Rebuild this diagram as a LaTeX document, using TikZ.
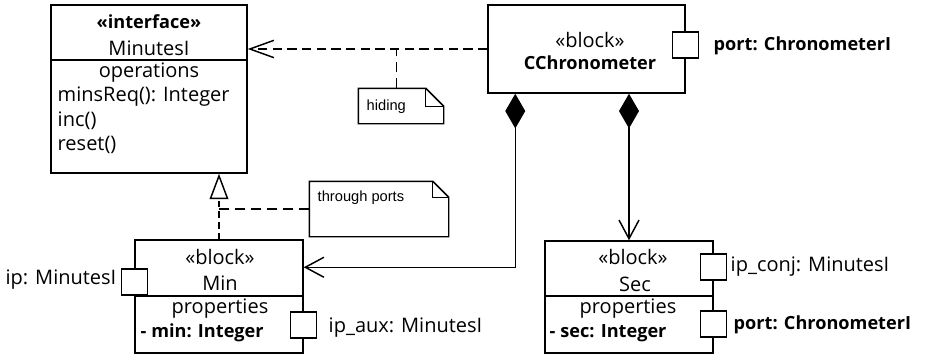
\documentclass[tikz,border=0pt]{standalone}
\usepackage{fontspec}
\setmainfont{Open Sans}
\newfontfamily\notefam{Liberation Sans}
\newcommand\umlfont{\fontsize{15}{18}\selectfont}
\newcommand\umlbold{\fontsize{13.6}{18}\selectfont\bfseries}
\newcommand\notefont{\notefam\fontsize{11}{13}\selectfont}
\usetikzlibrary{arrows.meta,fit,calc}

\tikzset{
  block/.style={draw, inner sep=0pt},
  port/.style={draw, fill=white, minimum size=19.5pt, inner sep=0pt},
  txt/.style={inner sep=0pt, font=\umlfont},
  btxt/.style={inner sep=0pt, font=\umlbold},
  notebox/.style={inner sep=0pt},
  notetxt/.style={inner sep=0pt, font=\notefont},
  dep/.style={dash pattern=on 7pt off 4pt, arrows=-{Straight Barb[length=18pt,width=13pt]}},
  gen/.style={dash pattern=on 5pt off 3pt, arrows=-{Triangle[open,length=19pt,width=14pt]}},
  comp/.style={arrows={Diamond[length=26pt,width=15pt]-Straight Barb[length=14pt,width=15pt]}},
  notelink/.style={dash pattern=on 8pt off 4pt}
}

\begin{document}
\begin{tikzpicture}[x=0.75pt, y=-0.75pt, line width=1.1pt]
    \path[fill=white] (0,0) rectangle (925,357);

    % Interfaz
    \node[block, fit={(51,5) (247,173)}] (minutes) {};
    \draw (minutes.west |- 0,60) -- (minutes.east |- 0,60);
    \node[btxt] (ifst) at (149,22) {«interface»};
    \node[txt] (ifname) at (149,48) {MinutesI};
    \node[txt] (ifops) at (149,73) {operations};
    \node[txt, anchor=west] (op1) at (57,97) {minsReq(): Integer};
    \node[txt, anchor=west] (op2) at (57,121) {inc()};
    \node[txt, anchor=west] (op3) at (57,145) {reset()};

    % Bloque CChronometer
    \node[block, fit={(488,5) (685,93)}] (chrono) {};
    \node[txt] (chst) at (590,40) {«block»};
    \node[btxt] (chname) at (590,63) {CChronometer};
    \node[port] (chport) at (chrono.east |- 0,45) {};
    \node[btxt, anchor=west] (chportl) at (713,46) {port: ChronometerI};

    % Bloque Min
    \node[block, fit={(135,240) (303,353)}] (minblk) {};
    \draw (minblk.west |- 0,296) -- (minblk.east |- 0,296);
    \node[txt] (minst) at (220,257) {«block»};
    \node[txt] (minname) at (220,283) {Min};
    \node[txt] (minprops) at (220,309) {properties};
    \node[btxt, anchor=west] (minattr) at (140,333) {- min: Integer};
    \node[port] (ip) at (minblk.west |- 0,282) {};
    \node[txt, anchor=east] (ipl) at (117,280) {ip: MinutesI};
    \node[port] (ipaux) at (minblk.east |- 0,325) {};
    \node[txt, anchor=west] (ipauxl) at (328,328) {ip\_aux: MinutesI};

    % Bloque Sec
    \node[block, fit={(545,241) (713,353)}] (secblk) {};
    \draw (secblk.west |- 0,296) -- (secblk.east |- 0,296);
    \node[txt] (secst) at (633,257) {«block»};
    \node[txt] (secname) at (635,284) {Sec};
    \node[txt] (secprops) at (628,309) {properties};
    \node[btxt, anchor=west] (secattr) at (549,333) {- sec: Integer};
    \node[port] (ipconj) at (secblk.east |- 0,267) {};
    \node[txt, anchor=west] (ipconjl) at (730,267) {ip\_conj: MinutesI};
    \node[port] (secport) at (secblk.east |- 0,324) {};
    \node[btxt, anchor=west] (secportl) at (733,325) {port: ChronometerI};

    % Notas
    \node[notebox, fit={(359,89) (443,123)}] (hiding) {};
    \draw (hiding.north west) -- ($(hiding.north east)+(-18,0)$) -- ($(hiding.north east)+(0,18)$)
        -- (hiding.south east) -- (hiding.south west) -- cycle;
    \draw ($(hiding.north east)+(-18,0)$) |- ($(hiding.north east)+(0,18)$);
    \node[notetxt, anchor=west] (hidingtxt) at (366,107) {hiding};
    \coordinate (hidingtop) at ($(hiding.north west)+(38,0)$);

    \node[notebox, fit={(310,182) (448,236)}] (ports) {};
    \draw (ports.north west) -- ($(ports.north east)+(-16,0)$) -- ($(ports.north east)+(0,16)$)
        -- (ports.south east) -- (ports.south west) -- cycle;
    \draw ($(ports.north east)+(-16,0)$) |- ($(ports.north east)+(0,16)$);
    \node[notetxt, anchor=west] (portstxt) at (317,198) {through ports};

    % Relaciones
    \draw[dep] (chrono.west) -- (chrono.west -| minutes.east);
    \draw[notelink] (hidingtop) -- (hidingtop |- chrono.west);
    \draw[gen] (minblk.north) -- (minblk.north |- minutes.south);
    \draw[notelink] (ports.west) -- (ports.west -| minblk.north);
    \draw[comp] ($(chrono.south west)+(28,0)$) |- ($(minblk.north east)+(0,28)$);
    \draw[comp] (secblk.north |- chrono.south) -- (secblk.north);
\end{tikzpicture}
\end{document}
